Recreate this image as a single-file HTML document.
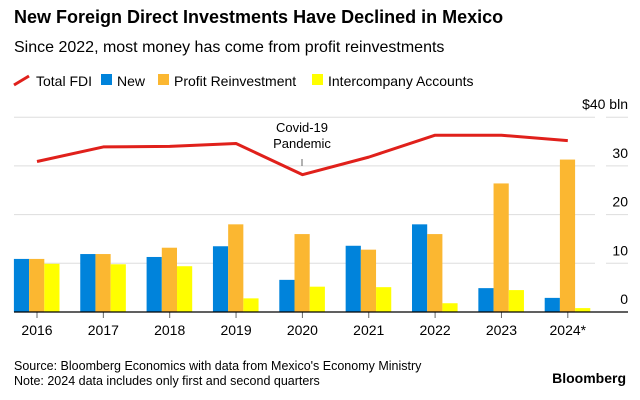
<!DOCTYPE html>
<html><head><meta charset="utf-8"><style>
body{margin:0;background:#fff;font-family:"Liberation Sans",sans-serif;}
#wrap{position:relative;width:640px;height:400px;overflow:hidden;}
</style></head><body>
<div id="wrap">
<svg id="chart" width="640" height="400" xmlns="http://www.w3.org/2000/svg">
<text x="14" y="23" font-size="18" font-weight="bold" fill="#000">New Foreign Direct Investments Have Declined in Mexico</text>
<text x="14" y="52" font-size="16" fill="#000">Since 2022, most money has come from profit reinvestments</text>
<g font-size="14" fill="#000">
<g><line x1="14" y1="85" x2="29" y2="76" stroke="#e0201b" stroke-width="3"/><text x="36" y="86">Total FDI</text></g>
<g><rect x="101" y="74" width="11" height="11" fill="#0083db"/><text x="117" y="86">New</text></g>
<g><rect x="158" y="74" width="11" height="11" fill="#fbb731"/><text x="174" y="86">Profit Reinvestment</text></g>
<g><rect x="312" y="74" width="11" height="11" fill="#ffff00"/><text x="328" y="86">Intercompany Accounts</text></g>
</g>
<g id="grid"></g><g id="bars"></g><g id="line"></g><g id="axes"></g>
<g>
<text x="302" y="132" font-size="13" text-anchor="middle">Covid-19</text>
<text x="302" y="148" font-size="13" text-anchor="middle">Pandemic</text>
<line x1="302" y1="159" x2="302" y2="166" stroke="#666" stroke-width="1"/>
</g>
<text x="14" y="370" font-size="12.5">Source: Bloomberg Economics with data from Mexico's Economy Ministry</text>
<text x="14" y="385" font-size="12.5">Note: 2024 data includes only first and second quarters</text>
<text x="626" y="383" font-size="14" font-weight="bold" text-anchor="end">Bloomberg</text>
</svg>
</div>
<script>
const categories=["2016","2017","2018","2019","2020","2021","2022","2023","2024*"];
const newVals=[10.9,11.9,11.3,13.5,6.6,13.6,18.0,4.9,2.9];
const profitVals=[10.9,11.9,13.2,18.0,16.0,12.8,16.0,26.4,31.3];
const interVals=[9.9,9.8,9.4,2.8,5.2,5.1,1.8,4.5,0.8];
const totalVals=[30.9,33.9,34.0,34.6,28.2,31.8,36.3,36.3,35.2];
const yTicks=[0,10,20,30,40];
const yTickLabels=["0","10","20","30","$40 bln"];
const NS="http://www.w3.org/2000/svg";
function y(v){return 312-v*4.87;}
function x(i){return 37+i*66.35;}
const BW=15.2;
function mk(t,a,p){const e=document.createElementNS(NS,t);for(const k in a)e.setAttribute(k,a[k]);p.appendChild(e);return e;}
const grid=document.getElementById('grid'),bars=document.getElementById('bars'),line=document.getElementById('line'),axes=document.getElementById('axes');
yTicks.forEach((t,i)=>{
 if(t>0){const g=mk('line',{x1:14,x2:595,y1:y(t),y2:y(t),stroke:'#ddd','stroke-width':1},grid);
 
 
 const g2=mk('line',{x1:606,x2:628,y1:y(t),y2:y(t),stroke:'#ddd','stroke-width':1},grid);
 
 }
 const l=mk('text',{x:628,y:y(t)-8,'font-size':14,'text-anchor':'end',fill:'#000'},axes);l.textContent=yTickLabels[i];
 
 
});
const series=[[newVals,'#0083db','new'],[profitVals,'#fbb731','profit'],[interVals,'#ffff00','intercompany']];
categories.forEach((c,i)=>{
 series.forEach((s,j)=>{
  const v=s[0][i];
  const r=mk('rect',{x:x(i)-23.1+j*BW,y:y(v),width:BW,height:312-y(v),fill:s[1]},bars);
  
  
 });
 const tk=mk('line',{x1:x(i),x2:x(i),y1:312,y2:318,stroke:'#666'},axes);
 
 
 const tl=mk('text',{x:x(i),y:335,'font-size':14,'text-anchor':'middle',fill:'#000'},axes);tl.textContent=c;
 
 
});
const base=mk('line',{x1:14,x2:628,y1:312,y2:312,stroke:'#000','stroke-width':1.2},axes);


const pl=mk('polyline',{points:totalVals.map((v,i)=>x(i)+','+y(v)).join(' '),fill:'none',stroke:'#e0201b','stroke-width':3,'stroke-linejoin':'round'},line);


</script>
</body></html>
